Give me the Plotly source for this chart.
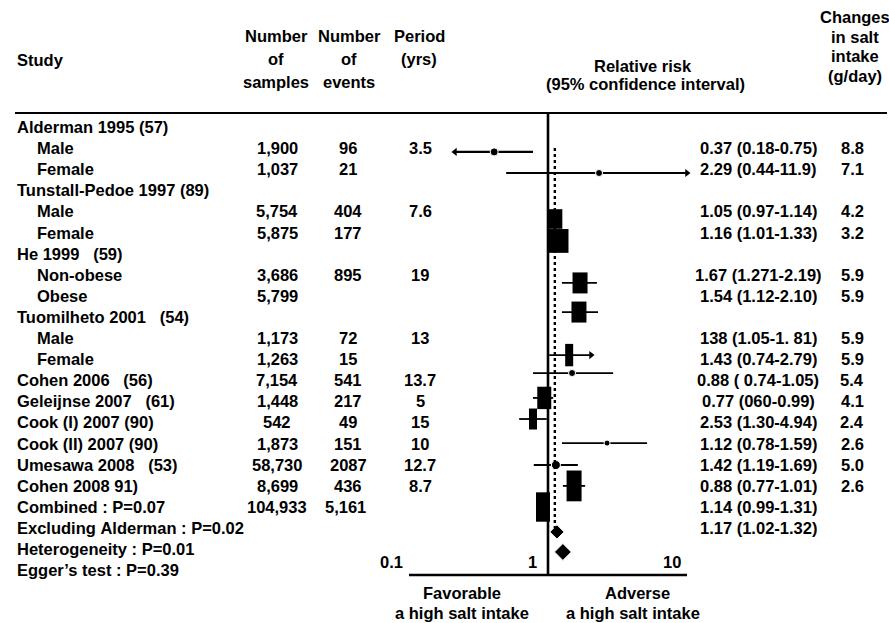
import math
import plotly.graph_objects as go

# ---------------- data ----------------
study_labels = ["Alderman 1995 (57)", "Male", "Female", "Tunstall-Pedoe 1997 (89)", "Male", "Female",
                "He 1999   (59)", "Non-obese", "Obese", "Tuomilheto 2001   (54)", "Male", "Female",
                "Cohen 2006   (56)", "Geleijnse 2007   (61)", "Cook (I) 2007 (90)", "Cook (II) 2007 (90)",
                "Umesawa 2008   (53)", "Cohen 2008 91)", "Combined : P=0.07",
                "Excluding Alderman : P=0.02", "Heterogeneity : P=0.01", "Egger\u2019s test : P=0.39"]
is_subgroup = [False, True, True, False, True, True, False, True, True, False, True, True,
               False, False, False, False, False, False, False, False, False, False]
n_samples = ["", "1,900", "1,037", "", "5,754", "5,875", "", "3,686", "5,799", "", "1,173", "1,263",
             "7,154", "1,448", "542", "1,873", "58,730", "8,699", "104,933", "", "", ""]
n_events = ["", "96", "21", "", "404", "177", "", "895", "", "", "72", "15",
            "541", "217", "49", "151", "2087", "436", "5,161", "", "", ""]
period_yrs = ["", "3.5", "", "", "7.6", "", "", "19", "", "", "13", "",
              "13.7", "5", "15", "10", "12.7", "8.7", "", "", "", ""]
rr_text = ["", "0.37 (0.18-0.75)", "2.29 (0.44-11.9)", "", "1.05 (0.97-1.14)", "1.16 (1.01-1.33)", "",
           "1.67 (1.271-2.19)", "1.54 (1.12-2.10)", "", "138 (1.05-1. 81)", "1.43 (0.74-2.79)",
           "0.88 ( 0.74-1.05)", "0.77 (060-0.99)", "2.53 (1.30-4.94)", "1.12 (0.78-1.59)",
           "1.42 (1.19-1.69)", "0.88 (0.77-1.01)", "1.14 (0.99-1.31)", "1.17 (1.02-1.32)", "", ""]
salt_change = ["", "8.8", "7.1", "", "4.2", "3.2", "", "5.9", "5.9", "", "5.9", "5.9",
               "5.4", "4.1", "2.4", "2.6", "5.0", "2.6", "", "", "", ""]

# plotted marks (as drawn in the picture)
mark_name = ["Alderman M", "Alderman F", "Tunstall M", "Tunstall F", "He non-obese", "He obese",
             "Tuomilheto F", "Cohen 2006", "Geleijnse", "Cook I", "Cook II", "Umesawa", "Cohen 2008",
             "Combined", "Excluding Alderman", "Heterogeneity"]
mark_row = [1.18, 2.18, 4.36, 5.40, 7.39, 8.77, 10.81, 11.66, 12.84, 13.84, 14.98, 16.02, 17.01,
            18.01, 19.19, 20.14]
mark_rr = [0.41, 2.33, 1.12, 1.18, 1.70, 1.67, 1.42, 1.49, 0.94, 0.78, 2.66, 1.14, 1.54, 0.92, 1.16, 1.28]
mark_lo = [0.214, 0.50, 1.02, 1.02, 1.26, 1.26, 1.02, 0.78, 0.78, 0.62, 1.26, 0.79, 1.28, None, None, None]
mark_hi = [0.78, 10.0, 1.20, 1.36, 2.25, 2.29, 2.04, 2.94, 1.09, 0.98, 5.16, 1.64, 1.85, None, None, None]
mark_kind = ["dot", "dot", "box", "box", "box", "box", "box", "dot", "box", "box", "dot", "dot", "box",
             "box", "diamond", "diamond"]
axis_ticks = [0.1, 1, 10]
tick_labels = ["0.1", "1", "10"]
ref_value = 1.0
pooled_value = 1.12

# ---------------- styling ----------------
W, H = 889, 623
ROW0, ROWH = 127, 21.1          # pixel y of row 0, row height
X1, DEC = 548, 139              # pixel x of RR=1, pixels per decade
FONT = "Liberation Sans"
FS = 16.5

box_style = {"Tunstall M": (15, 14), "Tunstall F": (21, 17), "He non-obese": (15, 15), "He obese": (15, 15),
             "Tuomilheto F": (8, 16), "Geleijnse": (14, 16), "Cook I": (8, 15), "Cohen 2008": (15, 22),
             "Combined": (14, 21)}
dot_style = {"Alderman M": 8, "Alderman F": 7, "Cohen 2006": 7, "Cook II": 6, "Umesawa": 9}
diamond_style = {"Excluding Alderman": 11, "Heterogeneity": 13}
ci_width = {"Alderman M": 2.4}
arrow_style = {"Alderman M": "left", "Alderman F": "right", "Tuomilheto F": "right"}


def prow(px):
    return (px - ROW0) / ROWH


def pxx(px):
    return px / W


fig = go.Figure()

# confidence intervals
for name, r, lo, hi in zip(mark_name, mark_row, mark_lo, mark_hi):
    if lo is None:
        continue
    fig.add_trace(go.Scatter(x=[lo, hi], y=[r, r], mode="lines",
                             line=dict(color="black", width=ci_width.get(name, 1.8)),
                             hoverinfo="skip", showlegend=False))

# arrow heads
for name, r, lo, hi in zip(mark_name, mark_row, mark_lo, mark_hi):
    if name in arrow_style:
        side = arrow_style[name]
        fig.add_trace(go.Scatter(x=[lo if side == "left" else hi], y=[r], mode="markers",
                                 marker=dict(symbol="triangle-" + side, size=7, color="black", opacity=1),
                                 hoverinfo="skip", showlegend=False))

# boxes (rectangles drawn as thick vertical line markers)
bx, by, bw, bh = [], [], [], []
for name, r, v, k in zip(mark_name, mark_row, mark_rr, mark_kind):
    if k == "box":
        w, h = box_style[name]
        bx.append(v); by.append(r); bw.append(w); bh.append(h)
fig.add_trace(go.Scatter(x=bx, y=by, mode="markers",
                         marker=dict(symbol="line-ns-open", size=bh, color="black", opacity=1,
                                     line=dict(color="black", width=bw)),
                         hoverinfo="skip", showlegend=False))

# dots
dx, dy, ds = [], [], []
for name, r, v, k in zip(mark_name, mark_row, mark_rr, mark_kind):
    if k == "dot":
        dx.append(v); dy.append(r); ds.append(dot_style[name])
fig.add_trace(go.Scatter(x=dx, y=dy, mode="markers",
                         marker=dict(symbol="circle", size=ds, color="black", opacity=1),
                         hoverinfo="skip", showlegend=False))

# diamonds
mx, my, ms = [], [], []
for name, r, v, k in zip(mark_name, mark_row, mark_rr, mark_kind):
    if k == "diamond":
        mx.append(v); my.append(r); ms.append(diamond_style[name])
fig.add_trace(go.Scatter(x=mx, y=my, mode="markers",
                         marker=dict(symbol="diamond", size=ms, color="black", opacity=1),
                         hoverinfo="skip", showlegend=False))

shapes = []
# header rule
shapes.append(dict(type="line", xref="paper", yref="y", x0=pxx(15), x1=pxx(887),
                   y0=prow(113), y1=prow(113), line=dict(color="black", width=2)))
# line of no effect
shapes.append(dict(type="line", xref="x", yref="y", x0=ref_value, x1=ref_value,
                   y0=prow(113), y1=prow(575), line=dict(color="black", width=2.6)))
# pooled estimate (dotted)
shapes.append(dict(type="line", xref="x", yref="y", x0=pooled_value, x1=pooled_value,
                   y0=prow(148), y1=prow(528), line=dict(color="black", width=2.4, dash="dot")))
# x axis line
shapes.append(dict(type="line", xref="x", yref="y", x0=axis_ticks[0], x1=axis_ticks[-1],
                   y0=prow(575), y1=prow(575), line=dict(color="black", width=2.4)))

ann = []


def txt(s, x, y, anchor="left", xref="paper", size=FS, xshift=0):
    ann.append(dict(text="<b>" + s + "</b>", x=x, y=y, xref=xref, yref="y", xanchor=anchor,
                    yanchor="middle", showarrow=False, xshift=xshift,
                    font=dict(family=FONT, size=size, color="black")))


# headers
txt("Study", pxx(15), prow(60))
for i, s in enumerate(["Number", "of", "samples"]):
    txt(s, pxx(276), prow(36 + 23 * i), "center")
for i, s in enumerate(["Number", "of", "events"]):
    txt(s, pxx(349), prow(36 + 23 * i), "center")
for i, s in enumerate(["Period", "(yrs)"]):
    txt(s, pxx(419), prow(36 + 23 * i), "center")
txt("Relative risk", pxx(643), prow(66), "center")
txt("(95% confidence interval)", pxx(645), prow(84), "center")
for i, s in enumerate(["Changes", "in salt", "intake", "(g/day)"]):
    txt(s, pxx(855), prow(17 + 19.5 * i), "center")

# table rows
for i, s in enumerate(study_labels):
    txt(s.replace(" ", "\u00a0"), pxx(35 if is_subgroup[i] else 15), i)
    if n_samples[i]:
        txt(n_samples[i], pxx(277), i, "center")
    if n_events[i]:
        txt(n_events[i], pxx(345 if i == 18 else 348), i, "center")
    if period_yrs[i]:
        txt(period_yrs[i], pxx(420), i, "center")
    if rr_text[i]:
        txt(rr_text[i].replace(" ", "\u00a0"), pxx(758), i, "center")
    if salt_change[i]:
        txt(salt_change[i], pxx(852), i, "center")

# axis tick labels (annotation x on a log axis is given in log10 units)
for v, s in zip(axis_ticks, tick_labels):
    txt(s, math.log10(v), prow(562), "right", xref="x", xshift=-4 if v != 1 else -9)

txt("Favorable", pxx(462), prow(593), "center")
txt("a high salt intake", pxx(462), prow(613), "center")
txt("Adverse", pxx(637), prow(593), "center")
txt("a high salt intake", pxx(633), prow(613), "center")

fig.update_layout(
    width=W, height=H, margin=dict(l=0, r=0, t=0, b=0),
    paper_bgcolor="white", plot_bgcolor="white",
    xaxis=dict(type="log", range=[-X1 / DEC, (W - X1) / DEC], visible=False, fixedrange=True),
    yaxis=dict(range=[(H - ROW0) / ROWH, -ROW0 / ROWH], visible=False, fixedrange=True),
    shapes=shapes, annotations=ann, showlegend=False, hovermode=False,
)

fig.write_html("out.html", config={"displayModeBar": False, "staticPlot": True},
               post_script="document.body.style.margin='0';document.body.style.overflow='hidden';")
